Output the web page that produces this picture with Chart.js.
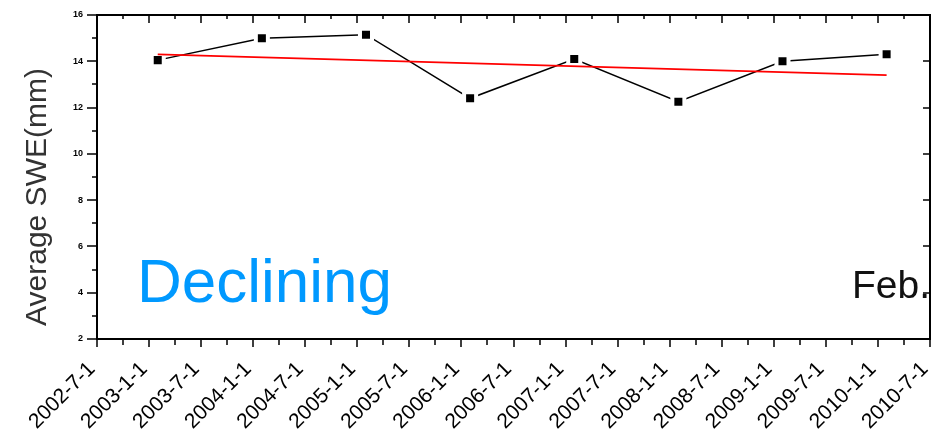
<!DOCTYPE html>
<html>
<head>
<meta charset="utf-8">
<script src="https://cdn.jsdelivr.net/npm/chart.js@4/dist/chart.umd.min.js"></script>
<style>
  html, body { margin: 0; padding: 0; background: #fff; }
  #wrap { width: 944px; height: 439px; }
</style>
</head>
<body>
<div id="wrap"><canvas id="c" width="944" height="439"></canvas></div>
<script>
// February average snow water equivalent, one value per year
const years = [2003, 2004, 2005, 2006, 2007, 2008, 2009, 2010];
const sweFeb = [14.05, 15.0, 15.15, 12.4, 14.1, 12.25, 14.0, 14.3];

// Linear trend, value at the first and at the last February
const trendYears = [2003, 2010];
const trendValues = [14.3, 13.4];

// Axis labels
const xTickLabels = ['2002-7-1', '2003-1-1', '2003-7-1', '2004-1-1', '2004-7-1', '2005-1-1',
  '2005-7-1', '2006-1-1', '2006-7-1', '2007-1-1', '2007-7-1', '2008-1-1', '2008-7-1',
  '2009-1-1', '2009-7-1', '2010-1-1', '2010-7-1'];
const yTickLabels = ['2', '4', '6', '8', '10', '12', '14', '16'];

const yTitle = 'Average SWE(mm)';
const trendNote = 'Declining';
const monthNote = 'Feb.';

// decimal-year position of the first day of a month
const datePos = (yr, month) => yr + (month - 1) / 12;
const xMin = datePos(2002, 7);
const xMax = datePos(2010, 7);

const frameAndText = {
  id: 'frameAndText',
  afterDraw(chart) {
    const { ctx, chartArea: { left, right, top, bottom }, scales: { x, y } } = chart;
    ctx.save();
    ctx.strokeStyle = '#000';
    ctx.lineWidth = 2;
    ctx.strokeRect(left, top, right - left, bottom - top);

    ctx.lineWidth = 1.5;
    ctx.beginPath();
    x.ticks.forEach((t, i) => {
      const px = Math.round(x.getPixelForValue(t.value));
      const major = i % 2 === 0;
      ctx.moveTo(px, bottom);
      ctx.lineTo(px, bottom + (major ? 8 : 6));
      ctx.moveTo(px, top);
      ctx.lineTo(px, top + (major ? 8 : 4));
    });
    y.ticks.forEach(t => {
      const py = Math.round(y.getPixelForValue(t.value));
      const major = t.value % 2 === 0;
      ctx.moveTo(left, py);
      ctx.lineTo(left - (major ? 10 : 5), py);
      if (major) {
        ctx.moveTo(right, py);
        ctx.lineTo(right - 7, py);
      }
    });
    ctx.stroke();

    // y axis title
    ctx.save();
    ctx.translate(38, 197);
    ctx.rotate(-Math.PI / 2);
    ctx.fillStyle = '#333';
    ctx.font = '30px "Liberation Sans", Arial, sans-serif';
    ctx.textAlign = 'center';
    ctx.textBaseline = 'middle';
    ctx.fillText(yTitle, 0, 0);
    ctx.restore();

    // notes inside the plot
    ctx.textAlign = 'left';
    ctx.textBaseline = 'alphabetic';
    ctx.fillStyle = '#0099ff';
    ctx.font = '62px "Liberation Sans", Arial, sans-serif';
    ctx.fillText(trendNote, 137, 302);
    ctx.fillStyle = '#111';
    ctx.font = '39px "Liberation Sans", Arial, sans-serif';
    ctx.fillText(monthNote, 852, 298);
    ctx.restore();
  }
};

new Chart(document.getElementById('c'), {
  type: 'scatter',
  data: {
    datasets: [
      {
        label: 'trend',
        data: trendYears.map((yr, i) => ({ x: datePos(yr, 2), y: trendValues[i] })),
        showLine: true,
        borderColor: '#ff0000',
        borderWidth: 1.8,
        pointRadius: 0,
        fill: false
      },
      {
        label: 'SWE',
        data: years.map((yr, i) => ({ x: datePos(yr, 2), y: sweFeb[i] })),
        showLine: true,
        borderColor: '#000',
        borderWidth: 1.5,
        pointStyle: 'rect',
        pointRadius: 8.5,
        pointBackgroundColor: '#000',
        pointBorderColor: '#fff',
        pointBorderWidth: 4,
        fill: false
      }
    ]
  },
  options: {
    responsive: false,
    animation: false,
    devicePixelRatio: 1,
    layout: { padding: { left: 0, right: 14, top: 15, bottom: 0 } },
    plugins: {
      legend: { display: false },
      tooltip: { enabled: false }
    },
    scales: {
      x: {
        type: 'linear',
        min: xMin,
        max: xMax,
        afterBuildTicks: scale => {
          const ticks = [];
          for (let i = 0; i <= (xTickLabels.length - 1) * 2; i++) {
            ticks.push({ value: xMin + i * 0.25 });
          }
          scale.ticks = ticks;
        },
        afterFit: scale => {
          scale.height = 100;
          scale.paddingLeft = 0;
          scale.paddingRight = 0;
        },
        grid: { drawOnChartArea: false, drawTicks: false },
        border: { display: false },
        ticks: {
          autoSkip: false,
          minRotation: 45,
          maxRotation: 45,
          padding: 18,
          labelOffset: -5,
          color: '#000',
          font: { family: '"Liberation Sans", Arial, sans-serif', size: 21 },
          callback: (v, i) => (i % 2 === 0 ? xTickLabels[i / 2] : '')
        }
      },
      y: {
        type: 'linear',
        min: 2,
        max: 16,
        afterFit: scale => {
          scale.width = 97;
          scale.paddingTop = 0;
          scale.paddingBottom = 0;
        },
        grid: { drawOnChartArea: false, drawTicks: false },
        border: { display: false },
        ticks: {
          stepSize: 1,
          padding: 14,
          color: '#000',
          font: { family: '"Liberation Sans", Arial, sans-serif', size: 9, weight: 'bold' },
          callback: v => (v % 2 === 0 ? yTickLabels[(v - 2) / 2] : '')
        }
      }
    }
  },
  plugins: [frameAndText]
});
</script>
</body>
</html>
